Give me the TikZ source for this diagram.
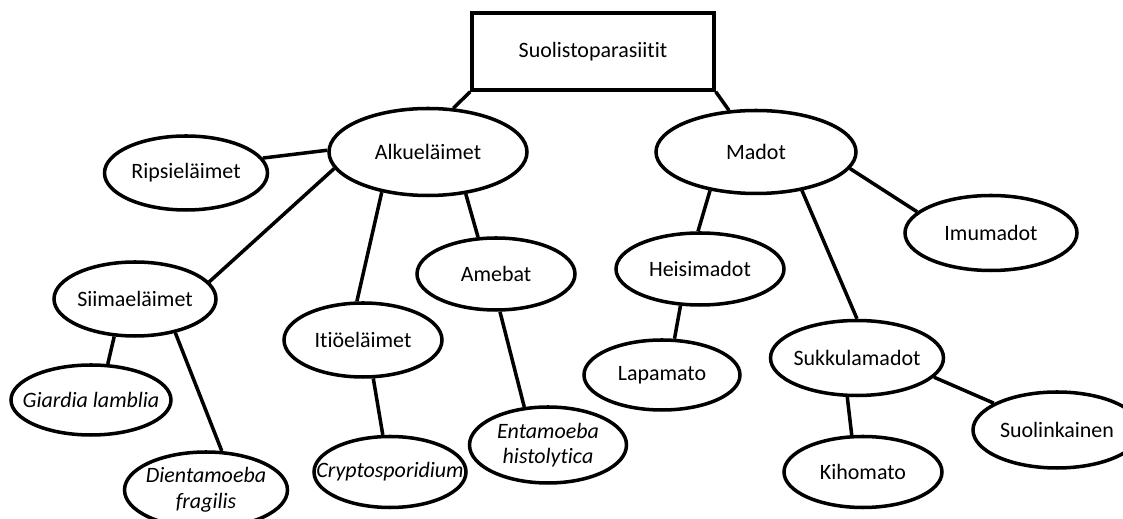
\documentclass[tikz,border=0pt]{standalone}
\usepackage{fontspec}
\setmainfont{Carlito}[Ligatures=NoCommon]
\usepackage{tikz}
\usetikzlibrary{shapes.geometric}

\begin{document}
\begin{tikzpicture}[
  x=0.02cm, y=-0.02cm,
  root/.style={rectangle, draw, line width=2pt, minimum width=242*0.02cm,
               minimum height=77*0.02cm, inner sep=0pt},
  oval/.style 2 args={ellipse, draw, line width=2pt, minimum width=#1*0.02cm,
               minimum height=#2*0.02cm, inner xsep=-2cm, inner ysep=0pt, align=center},
  link/.style={line width=2pt},
  every node/.style={font=\fontsize{12.5}{14.5}\selectfont}
]
  \useasboundingbox (0,0) rectangle (1123,519);

  % Top
  \node[root] (suol) at (593,51.5) {Suolistoparasiitit};

  % Alkueläimet side
  \node[oval={198}{87}] (alk) at (428,152) {Alkueläimet};
  \node[oval={163}{74}] (rips) at (186,173) {Ripsieläimet};
  \node[oval={162}{74}] (siim) at (135,299) {Siimaeläimet};
  \node[oval={158}{74}] (itio) at (363,340) {Itiöeläimet};
  \node[oval={158}{72}] (ameb) at (496,274) {Amebat};
  \node[oval={160}{70}] (giar) at (91,400) {\itshape Giardia lamblia};
  \node[oval={163}{76}] (dient) at (206,490) {\itshape Dientamoeba\\\itshape fragilis};
  \node[oval={152}{71}] (crypt) at (390,472) {\itshape Cryptosporidium};
  \node[oval={157}{76}] (ent) at (548,445) {\itshape Entamoeba\\\itshape histolytica};

  % Madot side
  \node[oval={200}{83}] (madot) at (756,152) {Madot};
  \node[oval={172}{75}] (imu) at (991,233) {Imumadot};
  \node[oval={168}{72}] (heisi) at (700,269) {Heisimadot};
  \node[oval={156}{70}] (lapa) at (662,375) {Lapamato};
  \node[oval={173}{75}] (sukk) at (857,358) {Sukkulamadot};
  \node[oval={158}{71}] (kiho) at (863,472) {Kihomato};
  \node[oval={168}{76}] (suoli) at (1057,430) {Suolinkainen};

  % Connections
  \draw[link] (suol.south west) -- (alk.60);
  \draw[link] (suol.south east) -- (madot.123);
  \draw[link] (alk.179) -- (rips.11);
  \draw[link] (alk.190) -- (siim.13);
  \draw[link] (alk.221) -- (itio.99);
  \draw[link] (alk.312) -- (ameb.116);
  \draw[link] (siim.241) -- (giar.65);
  \draw[link] (siim.320) -- (dient.68);
  \draw[link] (itio.285) -- (crypt.101);
  \draw[link] (ameb.276) -- (ent.122);
  \draw[link] (madot.350) -- (imu.164);
  \draw[link] (madot.220) -- (heisi.93);
  \draw[link] (madot.320) -- (sukk.90);
  \draw[link] (heisi.242) -- (lapa.71);
  \draw[link] (sukk.256) -- (kiho.107);
  \draw[link] (sukk.346) -- (suoli.157);
\end{tikzpicture}
\end{document}
